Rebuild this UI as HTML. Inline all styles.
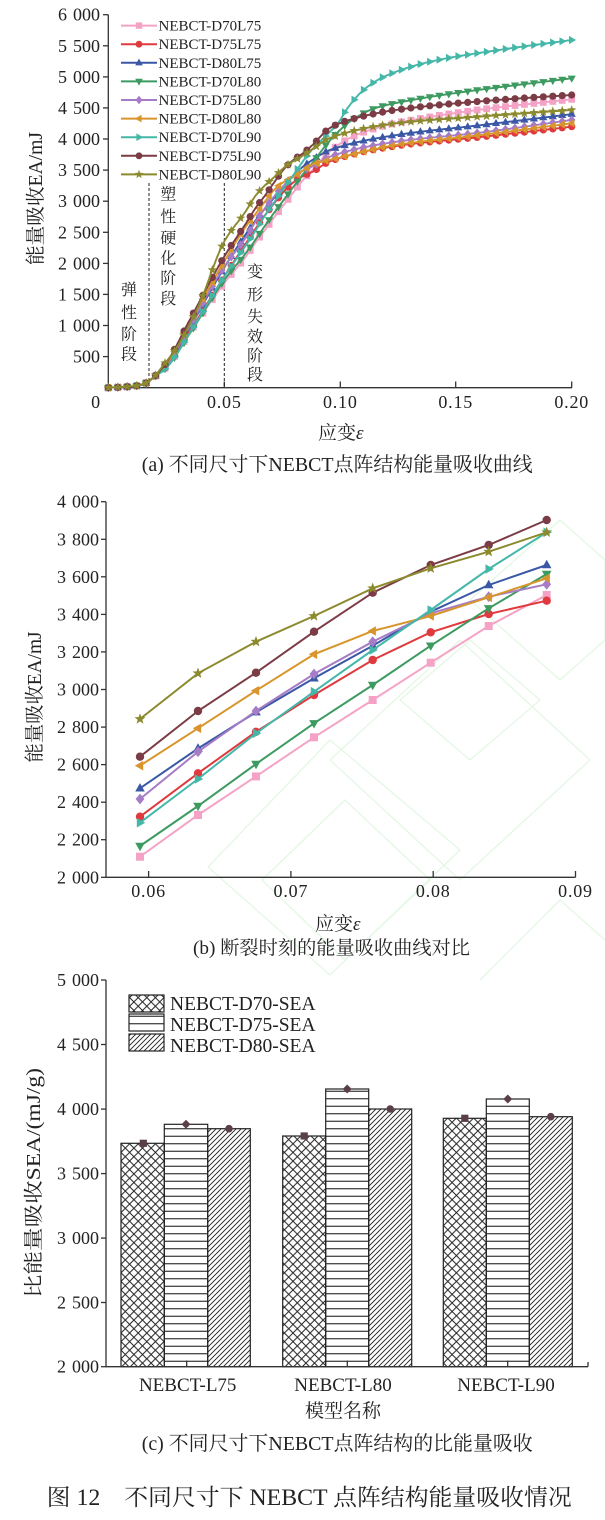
<!DOCTYPE html>
<html>
<head>
<meta charset="utf-8">
<style>
html,body{margin:0;padding:0;background:#fff;}
body{width:605px;height:1520px;overflow:hidden;}
svg{display:block;}
text{font-family:"Liberation Serif","Noto Serif CJK SC",serif;fill:#222;}
</style>
</head>
<body>
<svg id="s" width="605" height="1520" viewBox="0 0 605 1520" xmlns="http://www.w3.org/2000/svg">
<defs>
<pattern id="pX" patternUnits="userSpaceOnUse" width="8.6" height="8.6" x="121" y="0">
<path d="M0,0 L8.6,8.6 M0,8.6 L8.6,0" stroke="#222" stroke-width="1" fill="none"/>
</pattern>
<pattern id="pH" patternUnits="userSpaceOnUse" width="10" height="7.5">
<path d="M0,3.75 L10,3.75" stroke="#222" stroke-width="1.1" fill="none"/>
</pattern>
<pattern id="pD" patternUnits="userSpaceOnUse" width="5" height="5">
<path d="M0,5 L5,0 M-1,1 L1,-1 M4,6 L6,4" stroke="#222" stroke-width="0.95" fill="none"/>
</pattern>
</defs>

<!-- faint watermark -->
<g stroke="#e4f7e4" stroke-width="1.3" fill="none">
<polygon points="208,867 330,740 460,850 330,975"/>
<polygon points="262,880 345,800 430,880 345,960"/>
<polygon points="330,760 460,640 590,760 460,880"/>
<polygon points="400,700 470,640 540,700 470,760"/>
<polygon points="470,600 560,520 605,560 605,640 560,680"/>
<polyline points="480,980 560,900 605,940"/>
</g>

<!-- ============ Chart (a) ============ -->
<g stroke="#333" stroke-width="1.3" fill="none">
<line x1="108.3" y1="14.7" x2="108.3" y2="388.3"/>
<line x1="108.3" y1="387.7" x2="572" y2="387.7"/>
<line x1="103" y1="14.7" x2="108.3" y2="14.7"/>
<line x1="103" y1="45.8" x2="108.3" y2="45.8"/>
<line x1="103" y1="76.9" x2="108.3" y2="76.9"/>
<line x1="103" y1="107.9" x2="108.3" y2="107.9"/>
<line x1="103" y1="139" x2="108.3" y2="139"/>
<line x1="103" y1="170.1" x2="108.3" y2="170.1"/>
<line x1="103" y1="201.2" x2="108.3" y2="201.2"/>
<line x1="103" y1="232.3" x2="108.3" y2="232.3"/>
<line x1="103" y1="263.4" x2="108.3" y2="263.4"/>
<line x1="103" y1="294.4" x2="108.3" y2="294.4"/>
<line x1="103" y1="325.5" x2="108.3" y2="325.5"/>
<line x1="103" y1="356.6" x2="108.3" y2="356.6"/>
<line x1="224.3" y1="387.7" x2="224.3" y2="381.5"/>
<line x1="340.3" y1="387.7" x2="340.3" y2="381.5"/>
<line x1="455.7" y1="387.7" x2="455.7" y2="381.5"/>
<line x1="571.7" y1="387.7" x2="571.7" y2="381.5"/>
</g>
<g stroke="#222" stroke-width="1" stroke-dasharray="3,2">
<line x1="149" y1="183" x2="149" y2="387"/>
<line x1="224.3" y1="183" x2="224.3" y2="387"/>
</g>
<g font-size="18" text-anchor="end" word-spacing="1.5">
<text x="100" y="20.7">6 000</text>
<text x="100" y="51.8">5 500</text>
<text x="100" y="82.9">5 000</text>
<text x="100" y="113.9">4 500</text>
<text x="100" y="145">4 000</text>
<text x="100" y="176.1">3 500</text>
<text x="100" y="207.2">3 000</text>
<text x="100" y="238.3">2 500</text>
<text x="100" y="269.4">2 000</text>
<text x="100" y="300.4">1 500</text>
<text x="100" y="331.5">1 000</text>
<text x="100" y="362.6">500</text>
</g>
<g font-size="18" text-anchor="middle" letter-spacing="0.8">
<text x="96" y="408">0</text>
<text x="224.3" y="408">0.05</text>
<text x="340.3" y="408">0.10</text>
<text x="455.7" y="408">0.15</text>
<text x="571.7" y="408">0.20</text>
</g>
<text transform="translate(42,198.5) rotate(-90)" font-size="19.5" text-anchor="middle" textLength="133" lengthAdjust="spacingAndGlyphs">能量吸收EA/mJ</text>
<text x="318" y="439" font-size="19">应变<tspan font-style="italic">ε</tspan></text>
<text x="141.7" y="471" font-size="20" textLength="391" lengthAdjust="spacingAndGlyphs">(a) 不同尺寸下NEBCT点阵结构能量吸收曲线</text>
<g font-size="16" text-anchor="middle">
<text x="129" y="295">弹</text>
<text x="129" y="318">性</text>
<text x="129" y="339.5">阶</text>
<text x="129" y="359.5">段</text>
<text x="168.3" y="199.3">塑</text>
<text x="168.3" y="222">性</text>
<text x="168.3" y="243.5">硬</text>
<text x="168.3" y="263.5">化</text>
<text x="168.3" y="283.5">阶</text>
<text x="168.3" y="304">段</text>
<text x="255" y="277">变</text>
<text x="255" y="300">形</text>
<text x="255" y="322">失</text>
<text x="255" y="342">效</text>
<text x="255" y="361">阶</text>
<text x="255" y="380">段</text>
</g>
<g font-size="15">
<text x="158.5" y="30.6">NEBCT-D70L75</text>
<text x="158.5" y="49.2">NEBCT-D75L75</text>
<text x="158.5" y="67.8">NEBCT-D80L75</text>
<text x="158.5" y="86.4">NEBCT-D70L80</text>
<text x="158.5" y="105">NEBCT-D75L80</text>
<text x="158.5" y="123.6">NEBCT-D80L80</text>
<text x="158.5" y="142.2">NEBCT-D70L90</text>
<text x="158.5" y="160.8">NEBCT-D75L90</text>
<text x="158.5" y="179.4">NEBCT-D80L90</text>
</g>
<g id="gA"></g>

<!-- ============ Chart (b) ============ -->
<g stroke="#333" stroke-width="1.3" fill="none">
<line x1="106" y1="501.7" x2="106" y2="877.9"/>
<line x1="106" y1="877.3" x2="575.5" y2="877.3"/>
<line x1="101" y1="501.7" x2="106" y2="501.7"/>
<line x1="101" y1="539.3" x2="106" y2="539.3"/>
<line x1="101" y1="576.8" x2="106" y2="576.8"/>
<line x1="101" y1="614.4" x2="106" y2="614.4"/>
<line x1="101" y1="651.9" x2="106" y2="651.9"/>
<line x1="101" y1="689.5" x2="106" y2="689.5"/>
<line x1="101" y1="727.1" x2="106" y2="727.1"/>
<line x1="101" y1="764.6" x2="106" y2="764.6"/>
<line x1="101" y1="802.2" x2="106" y2="802.2"/>
<line x1="101" y1="839.7" x2="106" y2="839.7"/>
<line x1="101" y1="877.3" x2="106" y2="877.3"/>
<line x1="148.6" y1="877.3" x2="148.6" y2="871"/>
<line x1="290.9" y1="877.3" x2="290.9" y2="871"/>
<line x1="433.2" y1="877.3" x2="433.2" y2="871"/>
<line x1="575.5" y1="877.3" x2="575.5" y2="871"/>
</g>
<g font-size="18" text-anchor="end" word-spacing="1.5">
<text x="99" y="507.7">4 000</text>
<text x="99" y="545.3">3 800</text>
<text x="99" y="582.8">3 600</text>
<text x="99" y="620.4">3 400</text>
<text x="99" y="657.9">3 200</text>
<text x="99" y="695.5">3 000</text>
<text x="99" y="733.1">2 800</text>
<text x="99" y="770.6">2 600</text>
<text x="99" y="808.2">2 400</text>
<text x="99" y="845.7">2 200</text>
<text x="99" y="883.3">2 000</text>
</g>
<g font-size="18" text-anchor="middle" letter-spacing="0.8">
<text x="148.6" y="897">0.06</text>
<text x="290.9" y="897">0.07</text>
<text x="433.2" y="897">0.08</text>
<text x="575.5" y="897">0.09</text>
</g>
<text transform="translate(41,697) rotate(-90)" font-size="19.5" text-anchor="middle" textLength="131" lengthAdjust="spacingAndGlyphs">能量吸收EA/mJ</text>
<text x="315" y="930" font-size="19">应变<tspan font-style="italic">ε</tspan></text>
<text x="193" y="954" font-size="19" textLength="277" lengthAdjust="spacingAndGlyphs">(b) 断裂时刻的能量吸收曲线对比</text>
<g id="gB"></g>

<!-- ============ Chart (c) ============ -->
<g stroke="#222" stroke-width="1.2">
<rect x="121" y="1143.3" width="43.3" height="223.4" fill="url(#pX)"/>
<rect x="164.3" y="1124.3" width="43.4" height="242.4" fill="url(#pH)"/>
<rect x="207.7" y="1128.7" width="42.6" height="238" fill="url(#pD)"/>
<rect x="282.7" y="1136" width="43" height="230.7" fill="url(#pX)"/>
<rect x="325.7" y="1089" width="43" height="277.7" fill="url(#pH)"/>
<rect x="368.7" y="1109" width="43" height="257.7" fill="url(#pD)"/>
<rect x="443.3" y="1118.3" width="43" height="248.4" fill="url(#pX)"/>
<rect x="486.3" y="1099" width="43" height="267.7" fill="url(#pH)"/>
<rect x="529.3" y="1116.7" width="43" height="250" fill="url(#pD)"/>
</g>
<g fill="#5a4046">
<rect x="139.7" y="1139.7" width="7.2" height="7.2"/>
<polygon points="186,1119.8 190.5,1124.3 186,1128.8 181.5,1124.3"/>
<circle cx="229" cy="1128.7" r="3.8"/>
<rect x="300.6" y="1132.4" width="7.2" height="7.2"/>
<polygon points="347.2,1084.5 351.7,1089 347.2,1093.5 342.7,1089"/>
<circle cx="390.2" cy="1109" r="3.8"/>
<rect x="461.2" y="1114.7" width="7.2" height="7.2"/>
<polygon points="507.8,1094.5 512.3,1099 507.8,1103.5 503.3,1099"/>
<circle cx="550.8" cy="1116.7" r="3.8"/>
</g>
<g stroke="#333" stroke-width="1.3" fill="none">
<line x1="106" y1="980" x2="106" y2="1367.3"/>
<line x1="106" y1="1366.7" x2="588" y2="1366.7"/>
<line x1="101" y1="980" x2="106" y2="980"/>
<line x1="101" y1="1044.5" x2="106" y2="1044.5"/>
<line x1="101" y1="1109.1" x2="106" y2="1109.1"/>
<line x1="101" y1="1173.6" x2="106" y2="1173.6"/>
<line x1="101" y1="1238.1" x2="106" y2="1238.1"/>
<line x1="101" y1="1302.5" x2="106" y2="1302.5"/>
<line x1="101" y1="1366.7" x2="106" y2="1366.7"/>
<line x1="186.7" y1="1366.7" x2="186.7" y2="1360.5"/>
<line x1="347.3" y1="1366.7" x2="347.3" y2="1360.5"/>
<line x1="507.7" y1="1366.7" x2="507.7" y2="1360.5"/>
<line x1="588" y1="1366.7" x2="588" y2="1362"/>
</g>
<g stroke="#222" stroke-width="1.2">
<rect x="129" y="995" width="35" height="17" fill="url(#pX)"/>
<rect x="129" y="1014" width="35" height="17" fill="url(#pH)"/>
<rect x="129" y="1034" width="35" height="17" fill="url(#pD)"/>
</g>
<g font-size="19.5">
<text x="170" y="1010">NEBCT-D70-SEA</text>
<text x="170" y="1031">NEBCT-D75-SEA</text>
<text x="170" y="1052">NEBCT-D80-SEA</text>
</g>
<g font-size="18" text-anchor="end" word-spacing="1.5">
<text x="99" y="986">5 000</text>
<text x="99" y="1050.5">4 500</text>
<text x="99" y="1115.1">4 000</text>
<text x="99" y="1179.6">3 500</text>
<text x="99" y="1244.1">3 000</text>
<text x="99" y="1308.5">2 500</text>
<text x="99" y="1372.7">2 000</text>
</g>
<g font-size="19" text-anchor="middle">
<text x="187.7" y="1391">NEBCT-L75</text>
<text x="343" y="1391">NEBCT-L80</text>
<text x="506" y="1391">NEBCT-L90</text>
<text x="343" y="1417">模型名称</text>
</g>
<text transform="translate(40,1183) rotate(-90)" font-size="19.5" text-anchor="middle" textLength="230" lengthAdjust="spacingAndGlyphs">比能量吸收SEA/(mJ/g)</text>
<text x="141.7" y="1450" font-size="20" textLength="391" lengthAdjust="spacingAndGlyphs">(c) 不同尺寸下NEBCT点阵结构的比能量吸收</text>
<text x="46.7" y="1505" font-size="23" textLength="525" lengthAdjust="spacingAndGlyphs">图 12　不同尺寸下 NEBCT 点阵结构能量吸收情况</text>
</svg>

<script>
(function(){
function mono(pts){
  var n=pts.length,xs=pts.map(function(p){return p[0];}),ys=pts.map(function(p){return p[1];});
  var d=[],m=new Array(n),i;
  for(i=0;i<n-1;i++)d.push((ys[i+1]-ys[i])/(xs[i+1]-xs[i]));
  m[0]=d[0];m[n-1]=d[n-2];
  for(i=1;i<n-1;i++){
    if(d[i-1]*d[i]<=0){m[i]=0;}
    else{var h0=xs[i]-xs[i-1],h1=xs[i+1]-xs[i];var w1=2*h1+h0,w2=h1+2*h0;m[i]=(w1+w2)/(w1/d[i-1]+w2/d[i]);}
  }
  return function(x){
    var i=0;while(i<n-2&&x>xs[i+1])i++;
    var h=xs[i+1]-xs[i],t=(x-xs[i])/h,t2=t*t,t3=t2*t;
    return (2*t3-3*t2+1)*ys[i]+(t3-2*t2+t)*h*m[i]+(-2*t3+3*t2)*ys[i+1]+(t3-t2)*h*m[i+1];
  };
}
function f(v){return v.toFixed(1);}
function mk(t,cx,cy,s){
  var p;
  switch(t){
    case 'sq':return '<rect x="'+f(cx-s)+'" y="'+f(cy-s)+'" width="'+f(2*s)+'" height="'+f(2*s)+'"/>';
    case 'ci':return '<circle cx="'+f(cx)+'" cy="'+f(cy)+'" r="'+f(s*1.05)+'"/>';
    case 'tu':p=[[cx,cy-s*1.3],[cx+s*1.2,cy+s*0.8],[cx-s*1.2,cy+s*0.8]];break;
    case 'td':p=[[cx,cy+s*1.3],[cx+s*1.2,cy-s*0.8],[cx-s*1.2,cy-s*0.8]];break;
    case 'tl':p=[[cx-s*1.3,cy],[cx+s*0.8,cy-s*1.2],[cx+s*0.8,cy+s*1.2]];break;
    case 'tr':p=[[cx+s*1.3,cy],[cx-s*0.8,cy-s*1.2],[cx-s*0.8,cy+s*1.2]];break;
    case 'di':p=[[cx,cy-s*1.35],[cx+s*1.1,cy],[cx,cy+s*1.35],[cx-s*1.1,cy]];break;
    case 'st':p=[];for(var k=0;k<10;k++){var a=-Math.PI/2+k*Math.PI/5,r=k%2?s*0.6:s*1.45;p.push([cx+r*Math.cos(a),cy+r*Math.sin(a)]);}break;
  }
  return '<polygon points="'+p.map(function(q){return f(q[0])+','+f(q[1]);}).join(' ')+'"/>';
}
var pre=[[0,0],[0.006,10],[0.012,30],[0.016,70],[0.019,150]];
var S=[
 {c:'#f4a3c6',m:'sq',p:[[0.025,330],[0.035,880],[0.05,1680],[0.0594,2110],[0.0635,2332],[0.0676,2536],[0.0717,2745],[0.0758,2944],[0.0799,3143],[0.084,3338],[0.0881,3503],[0.095,3780],[0.105,4030],[0.12,4220],[0.131,4306],[0.16,4470],[0.2,4639]],
  b:[856.7,815,776.4,737.3,700,662.7,626,595]},
 {c:'#df3a3e',m:'ci',p:[[0.025,340],[0.035,900],[0.05,1790],[0.0594,2323],[0.0635,2554],[0.0676,2775],[0.0717,2971],[0.0758,3157],[0.0799,3305],[0.084,3402],[0.0881,3473],[0.0956,3640],[0.1245,3890],[0.16,4030],[0.2,4198]],
  b:[816.7,773.3,731.8,695,660,632.3,614,600.7]},
 {c:'#3a58a6',m:'tu',p:[[0.025,360],[0.035,960],[0.05,1930],[0.0594,2474],[0.0635,2688],[0.0676,2880],[0.0717,3060],[0.0758,3233],[0.0799,3414],[0.084,3556],[0.0881,3663],[0.0956,3823],[0.1245,4065],[0.16,4220],[0.2,4400]],
  b:[788.3,748.5,712.2,678.3,645.7,611.7,585,565]},
 {c:'#3d9a60',m:'td',p:[[0.025,320],[0.035,860],[0.05,1730],[0.0594,2167],[0.0635,2380],[0.0676,2603],[0.0717,2820],[0.0758,3024],[0.0799,3233],[0.084,3432],[0.0881,3615],[0.095,3950],[0.105,4300],[0.115,4494],[0.13,4620],[0.15,4740],[0.2,4977]],
  b:[846,806,764,723.3,685,645.7,608.3,574]},
 {c:'#a57cc5',m:'di',p:[[0.025,360],[0.035,980],[0.05,1946],[0.0594,2417],[0.0635,2669],[0.0676,2886],[0.0717,3083],[0.0758,3254],[0.0799,3406],[0.084,3494],[0.0881,3560],[0.0956,3716],[0.1245,3957],[0.16,4100],[0.2,4307]],
  b:[799,751.7,711,674,641.7,613.3,596.7,584.3]},
 {c:'#d8952c',m:'tl',p:[[0.025,380],[0.035,1040],[0.05,2030],[0.0594,2594],[0.0635,2793],[0.0676,2994],[0.0717,3187],[0.0758,3311],[0.0799,3391],[0.084,3490],[0.0881,3592],[0.0956,3662],[0.1245,3905],[0.16,4060],[0.2,4253]],
  b:[765.7,728.3,690.7,654.3,631,616,597.3,578.3]},
 {c:'#45b7a9',m:'tr',p:[[0.025,320],[0.035,870],[0.05,1785],[0.0594,2291],[0.0635,2523],[0.0676,2767],[0.0717,2988],[0.0758,3210],[0.0799,3423],[0.084,3642],[0.0881,3837],[0.095,4090],[0.1,4300],[0.1029,4480],[0.1115,4830],[0.12,5020],[0.1389,5244],[0.17,5440],[0.2,5593]],
  b:[822.7,779,733.3,691.7,650,610,569,532.3]},
 {c:'#7b3c45',m:'ci',p:[[0.025,400],[0.035,1080],[0.05,2107],[0.0594,2642],[0.0635,2886],[0.0676,3089],[0.0717,3308],[0.0758,3516],[0.0799,3663],[0.084,3769],[0.0881,3903],[0.0956,4176],[0.104,4306],[0.124,4467],[0.168,4628],[0.2,4708]],
  b:[756.7,711,672.7,631.7,592.7,565,545,520]},
 {c:'#8c8a2e',m:'st',p:[[0.025,420],[0.028,560],[0.0388,1303],[0.05,2349],[0.0594,2843],[0.0635,3086],[0.0676,3254],[0.0717,3391],[0.0758,3539],[0.0799,3645],[0.084,3734],[0.0881,3837],[0.0956,4016],[0.1245,4253],[0.16,4360],[0.2,4467]],
  b:[719,673.3,641.7,616,588.3,568.3,551.7,532.3]}
];
function X(e){return 108.3+e*2317;}
function Y(v){return 387.7-v*0.06217;}
var hA='',hB='',hL='';
var bx=[140,198,256,314,372.7,430.7,488.7,546.7];
S.forEach(function(s,idx){
  var fn=mono(pre.concat(s.p));
  var pts=[],e;
  for(var k=0;k<=400;k++){e=k*0.0005;pts.push(f(X(e))+','+f(Y(Math.max(0,fn(e)))));}
  var g='<g fill="'+s.c+'"><polyline points="'+pts.join(' ')+'" fill="none" stroke="'+s.c+'" stroke-width="1.9"/>';
  for(var i=0;i<50;i++){e=i*0.2/49;g+=mk(s.m,X(e),Y(Math.max(0,fn(e))),3.4);}
  hA+=g+'</g>';
  var ly=25.6+idx*18.6;
  hL+='<g fill="'+s.c+'"><line x1="121" y1="'+ly+'" x2="157" y2="'+ly+'" stroke="'+s.c+'" stroke-width="2"/>'+mk(s.m,139,ly,3.2)+'</g>';
  var bp=bx.map(function(x,j){return x+','+s.b[j];}).join(' ');
  var gb='<g fill="'+s.c+'"><polyline points="'+bp+'" fill="none" stroke="'+s.c+'" stroke-width="2"/>';
  for(var j=0;j<8;j++)gb+=mk(s.m,bx[j],s.b[j],4);
  hB+=gb+'</g>';
});
document.getElementById('gA').innerHTML=hA+hL;
document.getElementById('gB').innerHTML=hB;
})();
</script>
</body>
</html>
